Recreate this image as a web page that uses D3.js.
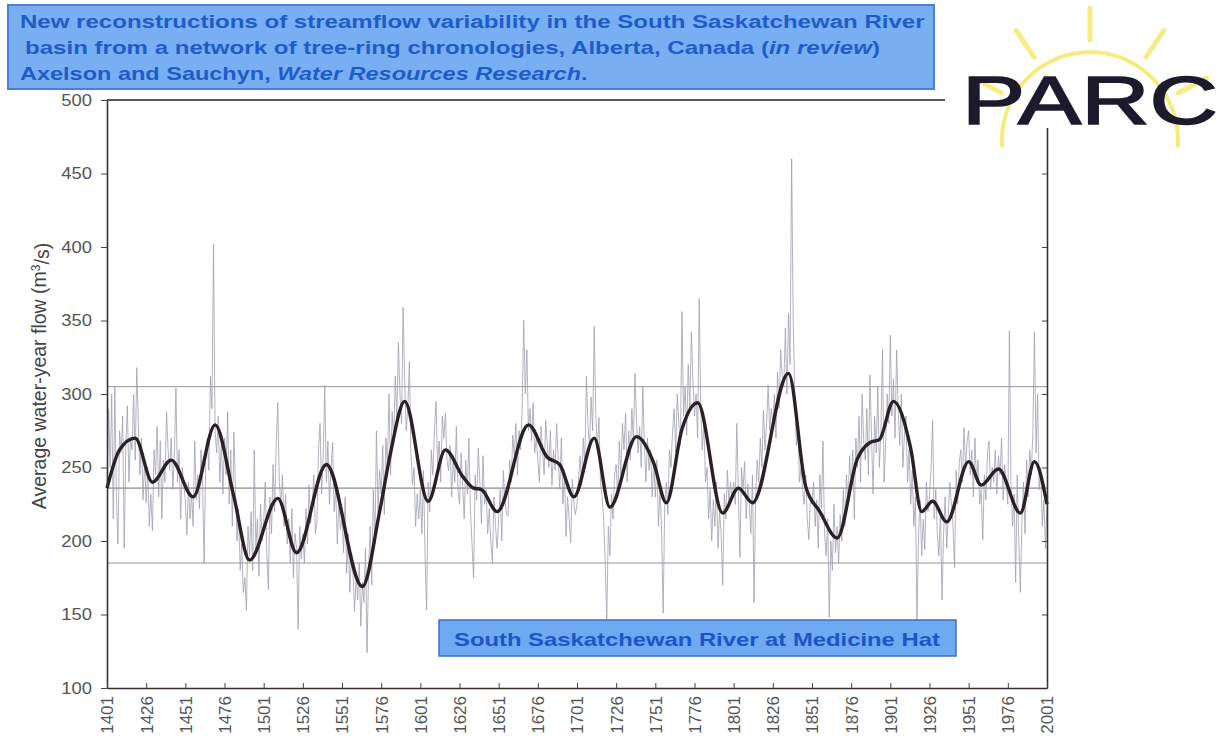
<!DOCTYPE html>
<html>
<head>
<meta charset="utf-8">
<script src="https://cdn.jsdelivr.net/npm/d3@7"></script>
<style>
body { margin: 0; background: #fff; }
svg { display: block; font-family: "Liberation Sans", Arial, sans-serif; }
</style>
</head>
<body>
<svg width="1223" height="740"></svg>
<script>
// annual reconstructed flow, one value per water year from 1401
const firstYear = 1401;
const annualFlow = [
  236, 290, 250, 300, 215, 305, 230, 198, 275, 260, 285, 195, 265, 292, 240, 270, 262, 300, 255, 318, 280, 245, 270, 228, 255, // 1401
  226, 250, 210, 232, 207, 262, 245, 278, 230, 268, 215, 255, 240, 288, 262, 248, 270, 235, 258, 304, 240, 262, 215, 250, 238, // 1426
  228, 204, 240, 215, 232, 210, 268, 228, 245, 222, 262, 238, 185, 255, 270, 248, 312, 290, 402, 275, 260, 285, 240, 268, 232, // 1451
  270, 245, 288, 225, 262, 210, 274, 235, 200, 222, 180, 198, 165, 175, 153, 210, 190, 220, 180, 262, 195, 215, 176, 225, 200, // 1476
  212, 240, 192, 167, 230, 205, 252, 220, 265, 294, 240, 225, 245, 210, 232, 198, 215, 185, 222, 175, 205, 195, 140, 210, 188, // 1501
  205, 185, 222, 198, 238, 212, 225, 245, 205, 212, 262, 280, 232, 258, 306, 240, 268, 225, 250, 267, 220, 235, 198, 226, 208, // 1526
  215, 192, 230, 178, 205, 165, 190, 180, 152, 175, 160, 185, 142, 172, 158, 195, 124, 182, 210, 170, 235, 198, 275, 220, 248, // 1551
  232, 265, 218, 270, 252, 300, 245, 288, 270, 312, 282, 335, 300, 280, 359, 310, 275, 290, 322, 260, 238, 250, 210, 232, 215, // 1576
  235, 205, 248, 190, 153, 240, 220, 262, 245, 275, 295, 250, 268, 240, 285, 270, 287, 255, 248, 265, 230, 258, 240, 278, 235, // 1601
  225, 260, 238, 215, 255, 232, 270, 220, 198, 175, 245, 228, 263, 240, 212, 258, 225, 235, 205, 222, 200, 185, 230, 210, 195, // 1626
  215, 235, 200, 248, 228, 218, 217, 255, 240, 272, 258, 280, 245, 275, 262, 290, 350, 300, 330, 275, 290, 268, 294, 260, 270, // 1651
  255, 240, 278, 262, 245, 282, 267, 250, 275, 238, 262, 248, 280, 255, 235, 270, 225, 248, 203, 230, 215, 199, 242, 226, 218, // 1676
  225, 242, 258, 238, 270, 252, 312, 280, 262, 298, 275, 346, 285, 262, 284, 240, 230, 215, 185, 146, 210, 190, 232, 215, 245, // 1701
  252, 230, 268, 245, 280, 262, 287, 240, 275, 255, 290, 268, 314, 282, 260, 278, 250, 305, 265, 240, 270, 248, 262, 230, 255, // 1726
  230, 255, 210, 238, 205, 151, 225, 240, 218, 262, 250, 275, 290, 260, 300, 280, 265, 356, 285, 305, 272, 320, 290, 342, 310, // 1751
  285, 300, 270, 365, 290, 262, 280, 240, 250, 215, 235, 200, 228, 210, 240, 195, 220, 205, 170, 232, 215, 248, 225, 240, 228, // 1776
  240, 225, 280, 232, 189, 250, 235, 254, 215, 239, 225, 205, 245, 158, 230, 255, 240, 270, 250, 289, 262, 280, 306, 275, 290, // 1801
  280, 300, 270, 315, 290, 330, 313, 305, 345, 300, 355, 320, 460, 350, 300, 265, 280, 240, 250, 235, 225, 245, 215, 201, 230, // 1826
  225, 240, 210, 228, 195, 245, 222, 268, 205, 190, 215, 148, 200, 180, 225, 192, 210, 185, 218, 200, 235, 210, 245, 225, 258, // 1851
  235, 262, 215, 270, 250, 285, 240, 300, 268, 255, 290, 245, 313, 270, 232, 285, 260, 305, 250, 275, 330, 240, 265, 300, 280, // 1876
  340, 285, 310, 270, 330, 290, 265, 300, 250, 272, 285, 240, 262, 225, 248, 210, 230, 146, 205, 228, 190, 215, 194, 240, 220, // 1901
  230, 250, 282, 215, 235, 205, 190, 220, 160, 205, 230, 195, 218, 240, 225, 210, 182, 248, 225, 254, 262, 240, 277, 250, 268, // 1926
  275, 245, 262, 230, 270, 240, 255, 225, 235, 201, 245, 228, 260, 268, 235, 250, 240, 262, 232, 258, 245, 270, 228, 252, 238, // 1951
  225, 343, 240, 210, 232, 172, 245, 200, 165, 215, 240, 205, 255, 230, 262, 245, 275, 342, 260, 300, 235, 250, 210, 228, 195, 225 // 1976
];

// low-pass filtered curve (thick line)
const smoothYears = [1401, 1409, 1419, 1430, 1442, 1456, 1470, 1482, 1492, 1510, 1522, 1541, 1564, 1575, 1582, 1591, 1606, 1617,
  1628, 1635, 1640, 1650, 1670, 1682, 1690, 1699, 1712, 1722, 1739, 1750, 1758, 1768, 1778, 1794, 1804, 1813, 1836, 1847,
  1856, 1867, 1880, 1888, 1894, 1903, 1914, 1921, 1928, 1937, 1951, 1959, 1970, 1984, 1993, 2001];
const smoothFlow = [236, 262, 270, 240, 255, 230, 279, 230, 187, 229, 192, 252, 169, 220, 260, 295, 227, 262,
  244, 236, 235, 220, 279, 257, 252, 230, 270, 223, 271, 253, 226, 276, 294, 219, 236, 226, 314, 237,
  220, 202, 256, 267, 269, 295, 263, 220, 227, 213, 254, 238, 249, 219, 254, 225];

// mean and upper / lower reference levels
const refLevels = [305, 236, 185];

const yTicks = [100, 150, 200, 250, 300, 350, 400, 450, 500];
const xTicks = d3.range(1401, 2002, 25);

const svg = d3.select("svg");

const x = d3.scaleLinear().domain([1401, 2001]).range([107, 1047]);
const y = d3.scaleLinear().domain([100, 500]).range([688, 100]);

// stretch text horizontally to a measured width
function fitText(t, tx, ty, width) {
    const w = t.node().getComputedTextLength();
    t.attr("transform", "translate(" + tx + "," + ty + ") scale(" + (width / w) + ",1)");
}

// reference lines
svg.append("g").selectAll("line")
    .data(refLevels)
    .enter().append("line")
    .attr("x1", x(1401)).attr("x2", x(2001))
    .attr("y1", d => y(d)).attr("y2", d => y(d))
    .attr("stroke", (d, i) => i == 1 ? "#5a5a5a" : "#8a8a8a")
    .attr("stroke-width", 0.9);

// annual series
const annual = annualFlow.map((v, i) => [firstYear + i, v]);
svg.append("path")
    .datum(annual)
    .attr("fill", "none")
    .attr("stroke", "#a0a0b0")
    .attr("stroke-width", 0.8)
    .attr("d", d3.line().x(d => x(d[0])).y(d => y(d[1])));

// smoothed series
const smooth = smoothYears.map((yr, i) => [yr, smoothFlow[i]]);
svg.append("path")
    .datum(smooth)
    .attr("fill", "none")
    .attr("stroke", "#2a2026")
    .attr("stroke-width", 3.4)
    .attr("stroke-linejoin", "round")
    .attr("d", d3.line().x(d => x(d[0])).y(d => y(d[1])).curve(d3.curveMonotoneX));

// top border
svg.append("line")
    .attr("x1", x(1401)).attr("x2", x(2001))
    .attr("y1", y(500)).attr("y2", y(500))
    .attr("stroke", "#555").attr("stroke-width", 2);

// axes
const yAxis = svg.append("g")
    .attr("transform", "translate(" + x(1401) + ",0)")
    .call(d3.axisLeft(y).tickValues(yTicks).tickSize(6).tickSizeOuter(0).tickPadding(7));
yAxis.select(".domain").attr("stroke", "#333").attr("stroke-width", 1.6);
yAxis.selectAll(".tick line").attr("stroke", "#444");
yAxis.selectAll("text")
    .style("font-size", "16px")
    .attr("fill", "#555")
    .attr("transform", "scale(1.15,1)");

svg.append("g")
    .attr("transform", "translate(" + x(2001) + ",0)")
    .call(d3.axisRight(y).tickValues(yTicks).tickSize(-5).tickSizeOuter(0).tickFormat(""))
    .call(g => g.select(".domain").attr("stroke", "#333").attr("stroke-width", 1.6))
    .call(g => g.selectAll(".tick line").attr("stroke", "#444"));

const xAxis = svg.append("g")
    .attr("transform", "translate(0," + y(100) + ")")
    .call(d3.axisBottom(x).tickValues(xTicks).tickSize(-5).tickSizeOuter(0).tickFormat(d3.format("d")));
xAxis.select(".domain").attr("stroke", "#3a2a2a").attr("stroke-width", 1.6);
xAxis.selectAll(".tick line").attr("stroke", "#444");
xAxis.selectAll("text")
    .style("font-size", "17px")
    .attr("fill", "#555")
    .attr("transform", "rotate(-90)")
    .attr("text-anchor", "end")
    .attr("x", -8)
    .attr("y", 0)
    .attr("dy", "0.35em");

// y axis title
svg.append("text")
    .attr("transform", "translate(39,376) rotate(-90)")
    .attr("text-anchor", "middle")
    .attr("dy", "0.35em")
    .style("font-size", "19.5px")
    .attr("fill", "#444")
    .text("Average water-year flow (m")
    .append("tspan").attr("dy", "-0.45em").style("font-size", "12px").text("3")
    .select(function() { return this.parentNode; })
    .append("tspan").attr("dy", "0.45em").text("/s)");

// legend box
svg.append("rect")
    .attr("x", 439).attr("y", 620).attr("width", 517).attr("height", 36)
    .attr("fill", "#6ea9f1").attr("stroke", "#3d6fc4").attr("stroke-width", 1.5);
const legendText = svg.append("text")
    .style("font-size", "18px").style("font-weight", "bold")
    .attr("fill", "#1d55c6")
    .text("South Saskatchewan River at Medicine Hat");
fitText(legendText, 454, 646, 486);

// title box
svg.append("rect")
    .attr("x", 8).attr("y", 5).attr("width", 926).attr("height", 84)
    .attr("fill", "#78aff3").attr("stroke", "#4a80d6").attr("stroke-width", 2);

const t1 = svg.append("text").style("font-size", "18px").style("font-weight", "bold").attr("fill", "#1f5cc8")
    .text("New reconstructions of streamflow variability in the South Saskatchewan River");
fitText(t1, 20, 28, 905);

const t2 = svg.append("text").style("font-size", "18px").style("font-weight", "bold").attr("fill", "#1f5cc8");
t2.append("tspan").text("basin from a network of tree-ring chronologies, Alberta, Canada (");
t2.append("tspan").style("font-style", "italic").text("in review");
t2.append("tspan").text(")");
fitText(t2, 25, 54, 855);

const t3 = svg.append("text").style("font-size", "18px").style("font-weight", "bold").attr("fill", "#1f5cc8");
t3.append("tspan").text("Axelson and Sauchyn, ");
t3.append("tspan").style("font-style", "italic").text("Water Resources Research");
t3.append("tspan").text(".");
fitText(t3, 20, 80, 568);

// PARC logo
const logo = svg.append("g");
logo.append("rect").attr("x", 945).attr("y", 0).attr("width", 278).attr("height", 128).attr("fill", "#fff");
const sunC = [1090, 140];
const arcPath = d3.path();
arcPath.arc(sunC[0], sunC[1], 88, -Math.PI * 185 / 180, Math.PI * 5 / 180);
logo.append("path")
    .attr("d", arcPath.toString())
    .attr("fill", "none").attr("stroke", "#f3ea70").attr("stroke-width", 4).attr("opacity", 0.9);
logo.selectAll(".ray")
    .data([-152, -124, -90, -56, -28])
    .enter().append("line")
    .attr("class", "ray")
    .attr("x1", a => sunC[0] + 100 * Math.cos(a * Math.PI / 180))
    .attr("y1", a => sunC[1] + 100 * Math.sin(a * Math.PI / 180))
    .attr("x2", a => sunC[0] + 132 * Math.cos(a * Math.PI / 180))
    .attr("y2", a => sunC[1] + 132 * Math.sin(a * Math.PI / 180))
    .attr("stroke", "#f3ea70").attr("stroke-width", 5).attr("stroke-linecap", "round").attr("opacity", 0.85);
const parc = logo.append("text")
    .style("font-size", "68px")
    .attr("fill", "#1c1a2c")
    .attr("stroke", "#1c1a2c")
    .attr("stroke-width", 1.6)
    .text("PARC");
fitText(parc, 962, 124, 256);
</script>
</body>
</html>
